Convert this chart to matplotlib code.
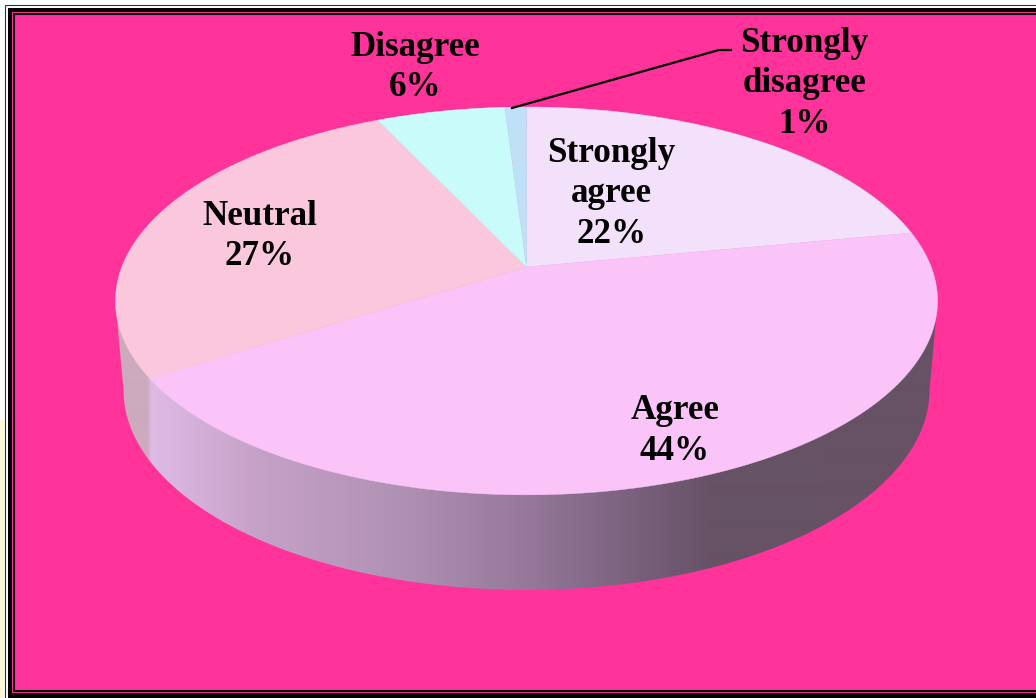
import numpy as np
import matplotlib
matplotlib.use("Agg")
import matplotlib.pyplot as plt
from matplotlib.patches import Polygon, Rectangle

W, H = 1036, 698

labels = ["Strongly\nagree\n22%", "Agree\n44%", "Neutral\n27%", "Disagree\n6%", "Strongly\ndisagree\n1%"]
values = [22, 44, 27, 6, 1]
colors = ["#F3E0FA", "#FAC4F8", "#FBC7DC", "#C8FBFA", "#C0E0F8"]
label_xy = [(611, 194), (675, 431), (260, 236.5), (415, 67.5), (804, 84)]

# side wall shading, sampled left to right along the wall
side_x = [115, 147, 151, 250, 400, 526, 620, 710, 938]
side_rgb = [(205, 170, 190), (205, 170, 190), (222, 187, 230), (200, 162, 200), (175, 145, 180),
            (150, 120, 155), (125, 100, 128), (102, 82, 102), (102, 82, 100)]

# pie geometry in pixels
cx, cy = 526.5, 267.0
ax_a, ax_b, persp = 404.7, 188.0, 0.175
bot_cy, bot_rx, bot_ry = 390.0, 403.0, 200.0


def project(frac):
    # clockwise fraction of the disc to picture position, with the perspective pull
    t = 2 * np.pi * np.asarray(frac)
    u, v = np.sin(t), np.cos(t)
    w = 1 + persp * v
    return cx + ax_a * u / w, cy - ax_b * v / w


fig = plt.figure(figsize=(W / 100, H / 100), dpi=100)
ax = fig.add_axes([0, 0, 1, 1])
ax.set_xlim(0, W)
ax.set_ylim(H, 0)
ax.axis("off")
fig.patch.set_facecolor("#FFFFFF")

# frame, cut off by the picture on the right and at the bottom
ax.add_patch(Rectangle((0, 420), 4, H - 420, fc="#FFF6D8", ec="none", zorder=0))
ax.add_patch(Rectangle((4.5, 4.5), W + 20, H + 20, fc="#FFFFFF", ec="#303030", lw=0.8, zorder=0.1))
ax.add_patch(Rectangle((8, 8), W + 20, H + 20, fc="#000000", ec="none", zorder=0.2))
ax.add_patch(Rectangle((11.5, 11.5), W + 20, H - 16.5, fc="#FF3399", ec="none", zorder=0.3))
ax.add_patch(Rectangle((14, 14), W + 20, H - 21.5, fc="#FF3399", ec="#000000", lw=1.5, zorder=0.4))

# side wall
top_x, top_y = project(np.linspace(0, 1, 720))
rgb = np.array(side_rgb) / 255
img = np.stack([np.interp(np.arange(W), side_x, rgb[:, i]) for i in range(3)], axis=1)[None, :, :]
im = ax.imshow(img, extent=(0, W, H, 0), aspect="auto", zorder=1, interpolation="bilinear")
t = np.linspace(0, np.pi, 200)
low_x = cx + bot_rx * np.cos(t)
low_y = bot_cy + bot_ry * np.sin(t)
order = np.argsort(top_x)
wall = np.r_[np.c_[top_x[order], top_y[order]], np.c_[low_x, low_y]]
side = Polygon(wall, closed=True, fc="none", ec="none")
ax.add_patch(side)
im.set_clip_path(side)

# top face
fracs = np.r_[0, np.cumsum(values)] / sum(values)
for i, c in enumerate(colors):
    s = np.linspace(fracs[i], fracs[i + 1], 200)
    x, y = project(s)
    ax.add_patch(Polygon(np.r_[[[cx, cy]], np.c_[x, y]], closed=True, fc=c, ec=c, lw=0.3, zorder=2))

# leader for the smallest slice
ax.plot([512, 719, 731], [108, 50, 50], color="black", lw=1.6, zorder=3)

for lab, (x, y) in zip(labels, label_xy):
    ax.text(x, y, lab, ha="center", va="center", family="Liberation Serif", weight="bold",
            fontsize=25.2, linespacing=1.3, color="black", zorder=4)

ax.set_xlim(0, W)
ax.set_ylim(H, 0)
fig.savefig("out.png", dpi=100, facecolor=fig.get_facecolor())
